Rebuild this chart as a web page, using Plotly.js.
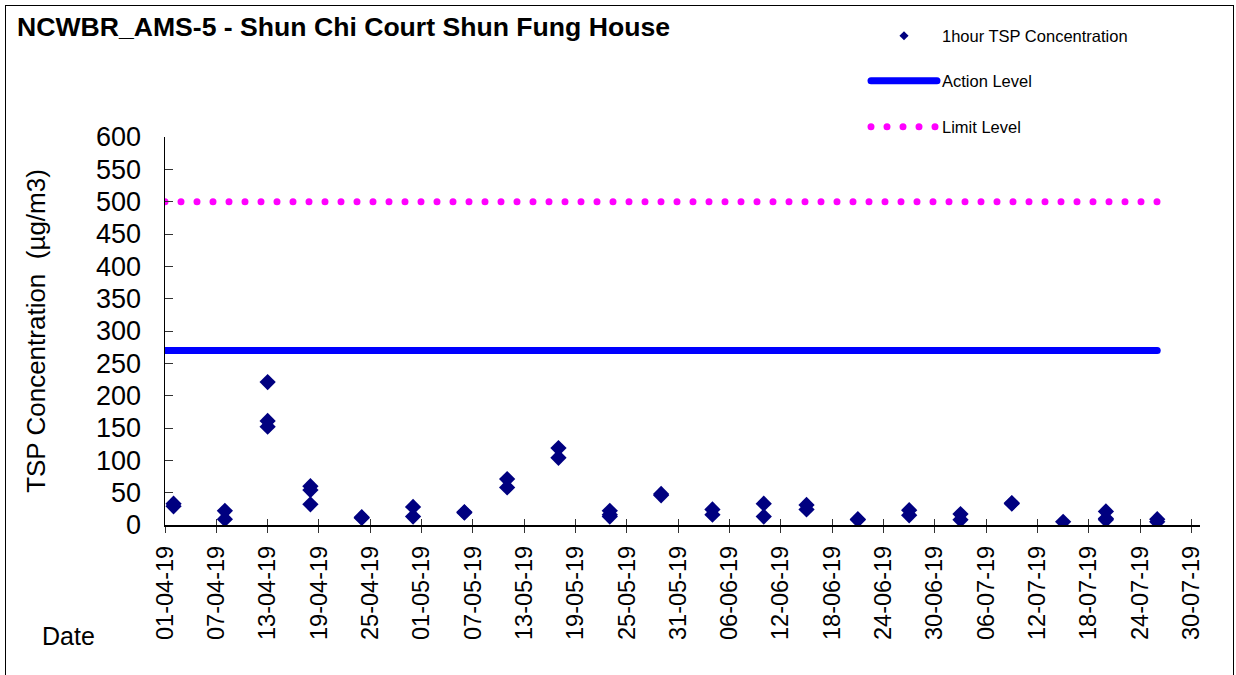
<!DOCTYPE html>
<html>
<head>
<meta charset="utf-8">
<script src="https://cdn.plot.ly/plotly-3.0.1.min.js"></script>
<style>
  html, body { margin: 0; padding: 0; background: #fff; }
  #wrap { position: relative; width: 1236px; height: 675px; }
  #chart { width: 1236px; height: 675px; }
  #frame { position: absolute; left: 5px; top: 5px; width: 1229px; height: 680px;
           border: 1px solid #000; pointer-events: none; box-sizing: border-box; }
  .js-line { stroke-linecap: round; }
</style>
</head>
<body>
<div id="wrap">
  <div id="chart"></div>
  <div id="frame"></div>
</div>
<script>
// ---- data ----
const sampleDates = [
  "2019-04-02","2019-04-02",
  "2019-04-08","2019-04-08",
  "2019-04-13","2019-04-13","2019-04-13",
  "2019-04-18","2019-04-18","2019-04-18",
  "2019-04-24","2019-04-24",
  "2019-04-30","2019-04-30",
  "2019-05-06","2019-05-06",
  "2019-05-11","2019-05-11",
  "2019-05-17","2019-05-17",
  "2019-05-23","2019-05-23","2019-05-23",
  "2019-05-29","2019-05-29",
  "2019-06-04","2019-06-04",
  "2019-06-10","2019-06-10",
  "2019-06-15","2019-06-15",
  "2019-06-21","2019-06-21",
  "2019-06-27","2019-06-27",
  "2019-07-03","2019-07-03",
  "2019-07-09","2019-07-09",
  "2019-07-15",
  "2019-07-20","2019-07-20","2019-07-20",
  "2019-07-26","2019-07-26"
];
const tspValues = [
  33, 29,
  22, 9,
  221, 161, 152,
  60, 54, 32,
  12, 11,
  28, 13,
  19, 20,
  71, 58,
  119, 104,
  22, 13, 16,
  48, 46,
  24, 16,
  33, 13,
  31, 24,
  9, 8,
  23, 15,
  17, 8,
  34, 33,
  5,
  21, 10, 8,
  9, 5
];
const levelDates = ["2019-04-01", "2019-07-26"];
const actionLevel = [270, 270];
const limitLevel = [500, 500];
const yTicks = [0, 50, 100, 150, 200, 250, 300, 350, 400, 450, 500, 550, 600];

const FONT = "Liberation Sans, Arial, sans-serif";
const W = 1236, H = 675;
const ML = 165, MR = 36, MT = 137, MB = 150;
const PW = W - ML - MR, PH = H - MT - MB;

const traces = [
  {
    type: "scatter", mode: "markers", name: "1hour TSP Concentration",
    x: sampleDates, y: tspValues,
    marker: { symbol: "diamond", size: 12.5, color: "#000080" },
    showlegend: false
  },
  {
    // legend entry only (small symbol as in the reference legend)
    type: "scatter", mode: "markers", name: "1hour TSP Concentration",
    x: [null], y: [null],
    marker: { symbol: "diamond", size: 7, color: "#000080" },
    legend: "legend", hoverinfo: "skip"
  },
  {
    type: "scatter", mode: "lines", name: "Action Level",
    x: levelDates, y: actionLevel,
    line: { color: "#0000FF", width: 7 },
    legend: "legend2"
  },
  {
    type: "scatter", mode: "lines", name: "Limit Level",
    x: levelDates, y: limitLevel,
    line: { color: "#FF00FF", width: 7, dash: "0px,16px" },
    legend: "legend3"
  },
  {
    // invisible helper for crossing x ticks (inside part)
    type: "scatter", mode: "markers", x: levelDates, y: actionLevel,
    xaxis: "x2", yaxis: "y", showlegend: false, hoverinfo: "skip",
    marker: { opacity: 0 }
  }
];

const legendBase = {
  xref: "container", yref: "container", xanchor: "left", yanchor: "middle",
  bgcolor: "rgba(0,0,0,0)", borderwidth: 0,
  font: { family: FONT, size: 16.5, color: "#000" },
  itemwidth: 66
};

const layout = {
  width: W, height: H,
  paper_bgcolor: "#fff", plot_bgcolor: "#fff",
  margin: { l: ML, r: MR, t: MT, b: MB, pad: 0, autoexpand: false },
  showlegend: true,
  font: { family: FONT, color: "#000" },
  title: {
    text: "<b>NCWBR_AMS-5 - Shun Chi Court Shun Fung House</b>",
    font: { family: FONT, size: 26.6, color: "#000" },
    x: 17 / W, xanchor: "left", xref: "container",
    y: 1 - 27 / H, yanchor: "middle", yref: "container"
  },
  xaxis: {
    type: "date",
    range: ["2019-04-01", "2019-07-31"],
    tick0: "2019-04-01", dtick: 6 * 86400000,
    tickformat: "%d-%m-%y", tickangle: -90,
    ticks: "outside", ticklen: 6, tickwidth: 1, tickcolor: "#333",
    tickfont: { family: FONT, size: 23.5, color: "#000" },
    showline: true, linecolor: "#000", linewidth: 1.5,
    showgrid: false, zeroline: false, fixedrange: true,
    ticklabelstandoff: 4, automargin: false
  },
  xaxis2: {
    type: "date", overlaying: "x", anchor: "y",
    range: ["2019-04-01", "2019-07-31"],
    tick0: "2019-04-01", dtick: 6 * 86400000,
    ticks: "inside", ticklen: 6, tickwidth: 1, tickcolor: "#333",
    showticklabels: false, showline: false, showgrid: false, zeroline: false
  },
  yaxis: {
    range: [0, 600], tickvals: yTicks, ticktext: yTicks.map(String),
    ticks: "inside", ticklen: 8, tickwidth: 1, tickcolor: "#333",
    tickfont: { family: FONT, size: 27, color: "#000" },
    showline: true, linecolor: "#000", linewidth: 1.5,
    showgrid: false, zeroline: false, fixedrange: true,
    ticklabelstandoff: 17, automargin: false,
    title: {
      text: "TSP Concentration  (µg/m3)",
      font: { family: FONT, size: 26, color: "#000" },
      standoff: 43
    }
  },
  legend: Object.assign({}, legendBase, { x: 866 / W, y: 1 - 36 / H }),
  legend2: Object.assign({}, legendBase, { x: 866 / W, y: 1 - 81 / H }),
  legend3: Object.assign({}, legendBase, { x: 866 / W, y: 1 - 127 / H }),
  annotations: [
    {
      text: "Date", xref: "paper", yref: "paper",
      x: (40 - ML) / PW, y: -(636 - (H - MB)) / PH,
      xanchor: "left", yanchor: "middle", showarrow: false,
      font: { family: FONT, size: 25, color: "#000" }
    }
  ]
};

Plotly.newPlot("chart", traces, layout, { displayModeBar: false, staticPlot: true });
</script>
</body>
</html>
